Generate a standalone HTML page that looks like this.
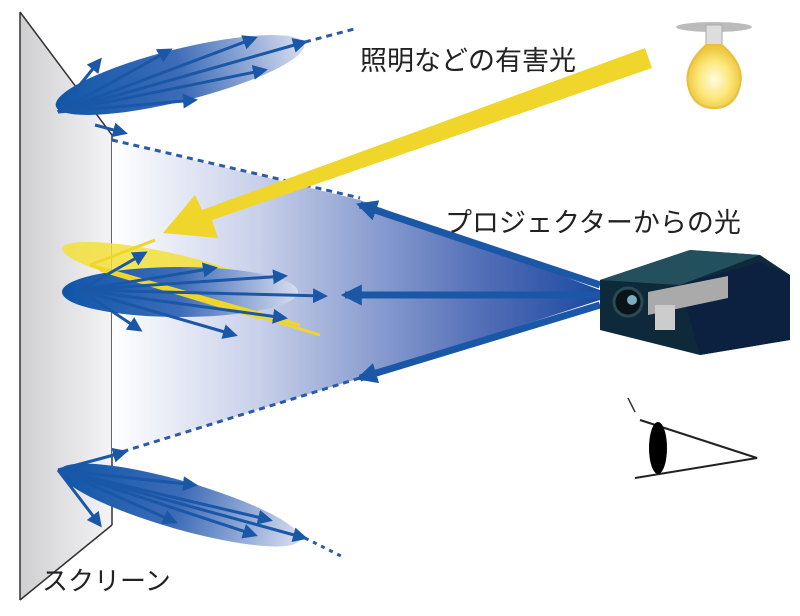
<!DOCTYPE html>
<html><head><meta charset="utf-8"><style>
html,body{margin:0;padding:0;background:#fff}
svg{display:block}
text{font-family:"Liberation Sans","Noto Sans CJK JP",sans-serif;fill:#222}
</style></head><body>
<svg width="800" height="616" viewBox="0 0 800 616" xmlns="http://www.w3.org/2000/svg">
<defs>
<linearGradient id="scr" x1="0" x2="1" y1="0" y2="0"><stop offset="0" stop-color="#cfcfd2"/><stop offset="1" stop-color="#f4f4f6"/></linearGradient>
<linearGradient id="cone" x1="0" x2="1" y1="0" y2="0"><stop offset="0" stop-color="#fff"/><stop offset="0.3" stop-color="#c8d0ea"/><stop offset="0.75" stop-color="#5470b8"/><stop offset="1" stop-color="#1d4aa0"/></linearGradient>
<linearGradient id="lobe" x1="0" x2="1" y1="0" y2="0"><stop offset="0" stop-color="#0e56a8"/><stop offset="0.5" stop-color="#3d6cb8"/><stop offset="1" stop-color="#d8ddef"/></linearGradient>
<radialGradient id="bulb" cx="0.5" cy="0.55" r="0.5"><stop offset="0" stop-color="#fffbe0"/><stop offset="0.6" stop-color="#fbe77a"/><stop offset="1" stop-color="#efc840"/></radialGradient>
<marker id="ah" viewBox="0 0 10 10" refX="8" refY="5" markerWidth="5" markerHeight="5" orient="auto"><path d="M0,0L10,5L0,10z" fill="#1a57a6"/></marker>
<marker id="ah2" viewBox="0 0 10 10" refX="8" refY="5" markerWidth="3" markerHeight="3" orient="auto"><path d="M0,0L10,5L0,10z" fill="#1a57a6"/></marker>
</defs>
<!-- screen -->
<polygon points="20,12 112,135 112,525 20,600" fill="url(#scr)"/>
<polyline points="20,12 112,135 112,525" fill="none" stroke="#333" stroke-width="1.5"/>
<line x1="20" y1="12" x2="20" y2="600" stroke="#333" stroke-width="1.5"/>
<line x1="20" y1="600" x2="112" y2="525" stroke="#333" stroke-width="1.5"/>
<!-- cone -->
<polygon points="112,140 360,200 600,290 600,300 360,378 112,455" fill="url(#cone)"/>
<line x1="112" y1="140" x2="360" y2="198" stroke="#2b5aa8" stroke-width="3" stroke-dasharray="6,5"/>
<line x1="112" y1="455" x2="360" y2="378" stroke="#2b5aa8" stroke-width="3" stroke-dasharray="6,5"/>
<g stroke="#1a57a6" stroke-width="7" marker-end="url(#ah2)">
<line x1="600" y1="285" x2="360" y2="205"/>
<line x1="600" y1="295" x2="345" y2="295"/>
<line x1="600" y1="305" x2="360" y2="378"/>
</g>
<!-- top lobe -->
<ellipse cx="180" cy="75" rx="128" ry="26" transform="rotate(-14 180 75)" fill="url(#lobe)"/>
<g stroke="#1a57a6" stroke-width="3" marker-end="url(#ah)">
<line x1="58" y1="112" x2="100" y2="60"/><line x1="58" y1="112" x2="170" y2="50"/><line x1="58" y1="112" x2="255" y2="38"/><line x1="58" y1="112" x2="305" y2="42"/><line x1="58" y1="112" x2="265" y2="70"/><line x1="58" y1="112" x2="195" y2="100"/><line x1="95" y1="125" x2="125" y2="133"/>
</g>
<line x1="305" y1="42" x2="358" y2="28" stroke="#2b5aa8" stroke-width="3" stroke-dasharray="6,5"/>
<!-- middle lobe -->
<ellipse cx="165" cy="270" rx="105" ry="18" transform="rotate(12 165 270)" fill="#f3df3a" opacity="0.85"/>
<ellipse cx="180" cy="292" rx="118" ry="25" fill="url(#lobe)"/>
<g stroke="#f0d52a" stroke-width="3">
<line x1="90" y1="265" x2="155" y2="240"/><line x1="90" y1="265" x2="300" y2="325"/><line x1="90" y1="265" x2="320" y2="335"/><line x1="100" y1="270" x2="260" y2="318"/>
</g>
<g stroke="#1a57a6" stroke-width="3" marker-end="url(#ah)">
<line x1="80" y1="290" x2="145" y2="253"/><line x1="80" y1="290" x2="215" y2="268"/><line x1="80" y1="290" x2="285" y2="276"/><line x1="80" y1="290" x2="325" y2="296"/><line x1="80" y1="290" x2="285" y2="318"/><line x1="80" y1="290" x2="235" y2="335"/><line x1="80" y1="290" x2="140" y2="330"/>
</g>
<!-- yellow arrow -->
<polygon points="645,48 652,68 212,220 218,238 163,233 195,195 202,210" fill="#f0d52a"/>
<!-- bottom lobe -->
<ellipse cx="180" cy="505" rx="125" ry="24" transform="rotate(16 180 505)" fill="url(#lobe)"/>
<g stroke="#1a57a6" stroke-width="3" marker-end="url(#ah)">
<line x1="58" y1="470" x2="125" y2="452"/><line x1="58" y1="470" x2="195" y2="485"/><line x1="58" y1="470" x2="270" y2="520"/><line x1="58" y1="470" x2="305" y2="538"/><line x1="58" y1="470" x2="255" y2="535"/><line x1="58" y1="470" x2="175" y2="522"/><line x1="58" y1="470" x2="100" y2="525"/>
</g>
<line x1="305" y1="538" x2="345" y2="558" stroke="#2b5aa8" stroke-width="3" stroke-dasharray="4,5"/>
<!-- texts -->
<text x="360" y="70" font-size="27">照明などの有害光</text>
<text x="445" y="232" font-size="27">プロジェクターからの光</text>
<text x="42" y="590" font-size="26">スクリーン</text>
<!-- bulb -->
<ellipse cx="714" cy="27" rx="38" ry="5" fill="#bbb"/>
<rect x="706" y="25" width="16" height="20" fill="#ddd" stroke="#aaa"/>
<path d="M706,45 L722,45 Q745,65 740,85 Q735,108 714,108 Q693,108 688,85 Q684,65 706,45z" fill="url(#bulb)" stroke="#e8c040" stroke-width="2"/>
<!-- projector -->
<polygon points="600,280 690,250 760,255 790,275 790,340 700,355 600,330" fill="#0e2a3a"/>
<polygon points="600,280 690,250 760,255 680,285" fill="#24505e"/>
<polygon points="680,285 760,262 790,275 790,340 700,355" fill="#0c2040"/>
<polygon points="648,292 728,276 728,298 648,315" fill="#aaa"/>
<circle cx="628" cy="302" r="14" fill="#0a1418" stroke="#2a4a55" stroke-width="3"/>
<circle cx="632" cy="300" r="5" fill="#7ab0c0"/>
<rect x="655" y="305" width="20" height="25" fill="#ccc"/>
<!-- eye -->
<line x1="628" y1="398" x2="635" y2="412" stroke="#333" stroke-width="1.5"/>
<polyline points="640,420 757,458 635,478" fill="none" stroke="#222" stroke-width="2"/>
<ellipse cx="658" cy="448" rx="9" ry="26" fill="#000"/>
</svg>
</body></html>
